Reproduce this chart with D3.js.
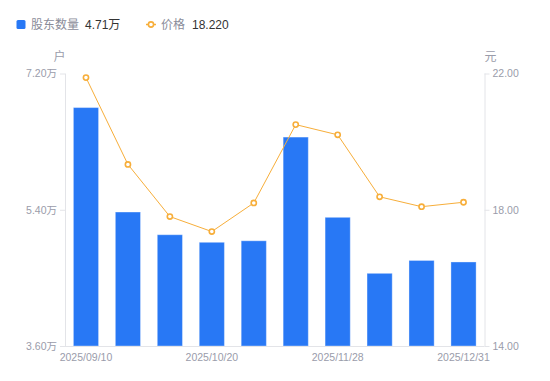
<!DOCTYPE html>
<html><head><meta charset="utf-8">
<script src="https://cdn.jsdelivr.net/npm/d3@7"></script>
<style>
html,body{margin:0;padding:0;background:#fff;}
svg{display:block;font-family:"Liberation Sans","Noto Sans CJK SC",sans-serif;}
</style></head>
<body>
<svg id="c" width="550" height="381"></svg>
<script>
const categories = ["2025/09/10","2025/09/19","2025/09/30","2025/10/20","2025/10/31","2025/11/10","2025/11/28","2025/12/10","2025/12/19","2025/12/31"];
const holders = [6.75, 5.37, 5.07, 4.97, 4.99, 6.36, 5.30, 4.56, 4.73, 4.71];
const prices = [21.88, 19.33, 17.80, 17.36, 18.20, 20.50, 20.20, 18.38, 18.09, 18.22];
const leftTicks = [3.6, 5.4, 7.2];
const rightTicks = [14, 18, 22];
const shownLabels = ["2025/09/10","2025/10/20","2025/11/28","2025/12/31"];

const svg = d3.select("#c");
const L = 65, R = 484.5, T = 73.5, B = 346;
const axisColor = "#e3e4e8", textColor = "#9a9caa";
const barColor = "#2878f5", lineColor = "#f7ae3a";
const numFont = "'Liberation Sans', 'Noto Sans CJK SC', sans-serif";
const cjkFont = "'Noto Sans CJK SC', sans-serif";

const x = d3.scaleBand().domain(categories).range([L, R]).paddingInner(0.4).paddingOuter(0.2);
const yL = d3.scaleLinear().domain([3.6, 7.2]).range([B, T]);
const yR = d3.scaleLinear().domain([14, 22]).range([B, T]);

// bars
svg.append("g").selectAll("rect").data(holders).join("rect")
  .attr("x", (d,i) => x(categories[i]))
  .attr("y", d => yL(d))
  .attr("width", x.bandwidth())
  .attr("height", d => B - yL(d))
  .attr("fill", barColor)
  .attr("stroke", "rgba(255,255,255,0.35)")
  .attr("stroke-width", 1);

// axes
const gl = svg.append("g").attr("transform", `translate(${L},0)`)
  .call(d3.axisLeft(yL).tickValues(leftTicks).tickSize(5).tickPadding(3).tickFormat(d => d3.format(".2f")(d) + "万"));
const gr = svg.append("g").attr("transform", `translate(${R},0)`)
  .call(d3.axisRight(yR).tickValues(rightTicks).tickSize(5).tickPadding(3).tickFormat(d3.format(".2f")));
const gb = svg.append("g").attr("transform", `translate(0,${B})`)
  .call(d3.axisBottom(x).tickValues(shownLabels).tickSize(0).tickPadding(8));
gb.select(".domain").attr("d", `M${L-5},0.5H${R}`);
[gl, gr, gb].forEach(g => {
  g.select(".domain").attr("stroke", axisColor);
  g.selectAll(".tick line").attr("stroke", axisColor);
  g.selectAll(".tick text").attr("fill", textColor).attr("font-size", 10.5)
    .attr("font-family", numFont);
});
gl.select(".domain").attr("d", `M0.5,${T}V${B}`);
gr.select(".domain").attr("d", `M0.5,${T}V${B}`);

// unit labels
svg.append("text").attr("x", 59.5).attr("y", 61).attr("text-anchor", "middle")
  .attr("fill", textColor).attr("font-size", 12).attr("font-family", cjkFont).text("户");
svg.append("text").attr("x", 490.5).attr("y", 61).attr("text-anchor", "middle")
  .attr("fill", textColor).attr("font-size", 12).attr("font-family", cjkFont).text("元");

// price line
const cx = (d,i) => x(categories[i]) + x.bandwidth()/2;
svg.append("path").datum(prices)
  .attr("d", d3.line().x(cx).y(d => yR(d)))
  .attr("fill", "none").attr("stroke", lineColor).attr("stroke-width", 1);
svg.append("g").selectAll("circle").data(prices).join("circle")
  .attr("cx", cx).attr("cy", d => yR(d)).attr("r", 2.6)
  .attr("fill", "#fff").attr("stroke", lineColor).attr("stroke-width", 1.6);

// legend
const lg = svg.append("g");
lg.append("rect").attr("x", 16.5).attr("y", 20).attr("width", 9).attr("height", 9).attr("rx", 1.5).attr("fill", barColor);
lg.append("text").attr("x", 31).attr("y", 29).attr("fill", "#8a8c99").attr("font-size", 12).attr("font-family", cjkFont).text("股东数量");
lg.append("text").attr("x", 85).attr("y", 29).attr("fill", "#333").attr("font-size", 12)
  .text(d3.format(".2f")(holders[holders.length-1]) + "万");
lg.append("line").attr("x1", 146).attr("x2", 156).attr("y1", 24.5).attr("y2", 24.5).attr("stroke", lineColor).attr("stroke-width", 1.5);
lg.append("circle").attr("cx", 151).attr("cy", 24.5).attr("r", 2.6).attr("fill", "#fff").attr("stroke", lineColor).attr("stroke-width", 1.6);
lg.append("text").attr("x", 161).attr("y", 29).attr("fill", "#8a8c99").attr("font-size", 12).attr("font-family", cjkFont).text("价格");
lg.append("text").attr("x", 192).attr("y", 29).attr("fill", "#333").attr("font-size", 12)
  .text(d3.format(".3f")(prices[prices.length-1]));
</script>
</body></html>
